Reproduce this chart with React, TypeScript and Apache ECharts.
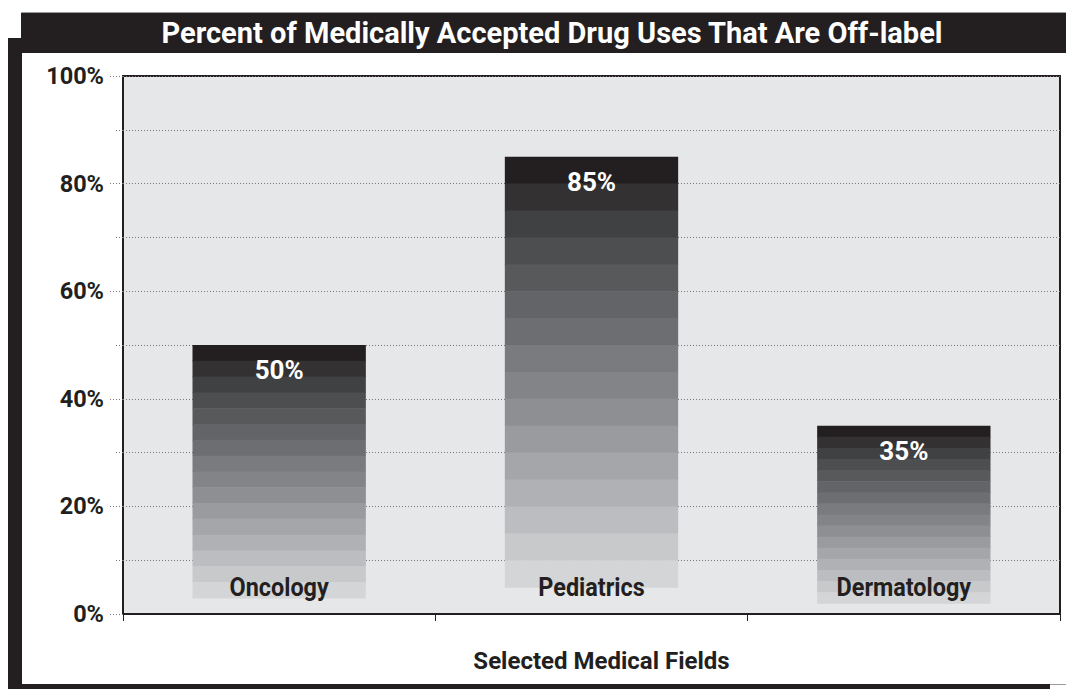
import React, { useEffect, useRef } from "react";
import * as echarts from "echarts";

// Share of medically accepted drug uses that are off-label, by field
const categories = ["Oncology", "Pediatrics", "Dermatology"];
const offLabelPct = [50, 85, 35];
// Where each shaded column starts (percent axis units)
const barBase = [3, 5, 2];
const yTickValues = [0, 20, 40, 60, 80, 100];

const TITLE = "Percent of Medically Accepted Drug Uses That Are Off-label";
const X_NAME = "Selected Medical Fields";

const FONT = "Roboto, 'Liberation Sans', sans-serif";
const INK = "#231f20";

// Stepped shading of each column, dark at the top to light at the bottom
const bandColors = [
  "#231f20", "#333132", "#3f4143", "#4d4e50", "#58595b", "#636467",
  "#6d6e71", "#7a7b7e", "#838487", "#8e8f92", "#9a9b9e", "#a5a6a9",
  "#b0b1b4", "#bcbdc0", "#c8c9cb", "#d4d5d7",
];

export default function App() {
  const ref = useRef<HTMLDivElement>(null);

  useEffect(() => {
    if (!ref.current) return;
    const chart = echarts.init(ref.current, null, { renderer: "svg" });

    const dotted = { color: "#77787b", width: 1, type: [1, 2] as number[] };

    const option: any = {
      animation: false,
      backgroundColor: "#ffffff",
      graphic: [
        // panel with dark drop shadow on the left and bottom
        { type: "rect", left: 8, top: 38, shape: { width: 14, height: 651 }, style: { fill: INK }, silent: true },
        { type: "rect", left: 8, top: 684, shape: { width: 1042, height: 5 }, style: { fill: INK }, silent: true },
        {
          type: "rect", left: 21, top: 12,
          shape: { width: 1045, height: 672 },
          style: { fill: "#ffffff", stroke: "#9a9b9e", lineWidth: 1 },
          z: -1, silent: true,
        },
        { type: "rect", left: 21, top: 13, shape: { width: 1045, height: 40 }, style: { fill: INK }, silent: true },
        {
          type: "text", x: 552, y: 33,
          style: {
            text: TITLE, fill: "#ffffff", font: `bold 29px ${FONT}`,
            align: "center", verticalAlign: "middle",
          },
          silent: true,
        },
      ],
      grid: {
        left: 123, right: 6, top: 76, bottom: 75,
        show: true, backgroundColor: "#e6e7e8",
        borderColor: INK, borderWidth: 2,
      },
      xAxis: {
        type: "category",
        data: categories,
        boundaryGap: true,
        axisLine: { show: true, lineStyle: { color: INK, width: 2 } },
        axisTick: { show: true, length: 7, interval: 0, lineStyle: { color: INK, width: 1 } },
        axisLabel: { show: false },
        splitLine: { show: false },
        name: X_NAME,
        nameLocation: "middle",
        nameGap: 35,
        nameTextStyle: {
          fontFamily: FONT, fontWeight: "bold", fontSize: 24, color: INK,
          padding: [0, 0, 0, 20],
        },
      },
      yAxis: {
        type: "value",
        min: 0,
        max: 100,
        interval: 20,
        axisLine: { show: false },
        axisTick: { show: true, length: 14, lineStyle: dotted },
        minorTick: { show: true, splitNumber: 2, length: 9, lineStyle: dotted },
        axisLabel: {
          formatter: (v: number) => (yTickValues.includes(v) ? `${v}%` : ""),
          fontFamily: FONT, fontWeight: "bold", fontSize: 23.5, color: INK, margin: 19,
        },
        splitLine: { show: true, lineStyle: dotted },
        minorSplitLine: { show: true, lineStyle: dotted },
      },
      series: [
        {
          type: "custom",
          data: offLabelPct.map((v, i) => [i, v, barBase[i]]),
          encode: { x: 0, y: 1 },
          renderItem: (params: any, api: any) => {
            const i = params.dataIndex;
            const value = api.value(1);
            const top = api.coord([i, value]);
            const bottom = api.coord([i, api.value(2)]);
            const axisY = api.coord([i, 0])[1];
            const w = api.size([1, 0])[0] * 0.555;
            const x = top[0] - w / 2;
            const h = bottom[1] - top[1];
            const n = bandColors.length;
            const children: any[] = bandColors.map((c, k) => ({
              type: "rect",
              shape: { x, y: top[1] + (h * k) / n, width: w, height: h / n + 0.6 },
              style: { fill: c },
            }));
            children.push({
              type: "text",
              x: top[0], y: top[1] + 25,
              style: {
                text: `${value}%`, fill: "#ffffff", font: `bold 26px ${FONT}`,
                align: "center", verticalAlign: "middle",
              },
            });
            children.push({
              type: "text",
              x: top[0], y: axisY - 27, scaleX: 0.9,
              style: {
                text: categories[i], fill: INK, font: `bold 26px ${FONT}`,
                align: "center", verticalAlign: "middle",
              },
            });
            return { type: "group", children };
          },
        },
      ],
    };

    chart.setOption(option);
    return () => chart.dispose();
  }, []);

  return (
    <div
      ref={ref}
      style={{ position: "fixed", left: 0, top: 0, width: 1066, height: 689 }}
    />
  );
}
